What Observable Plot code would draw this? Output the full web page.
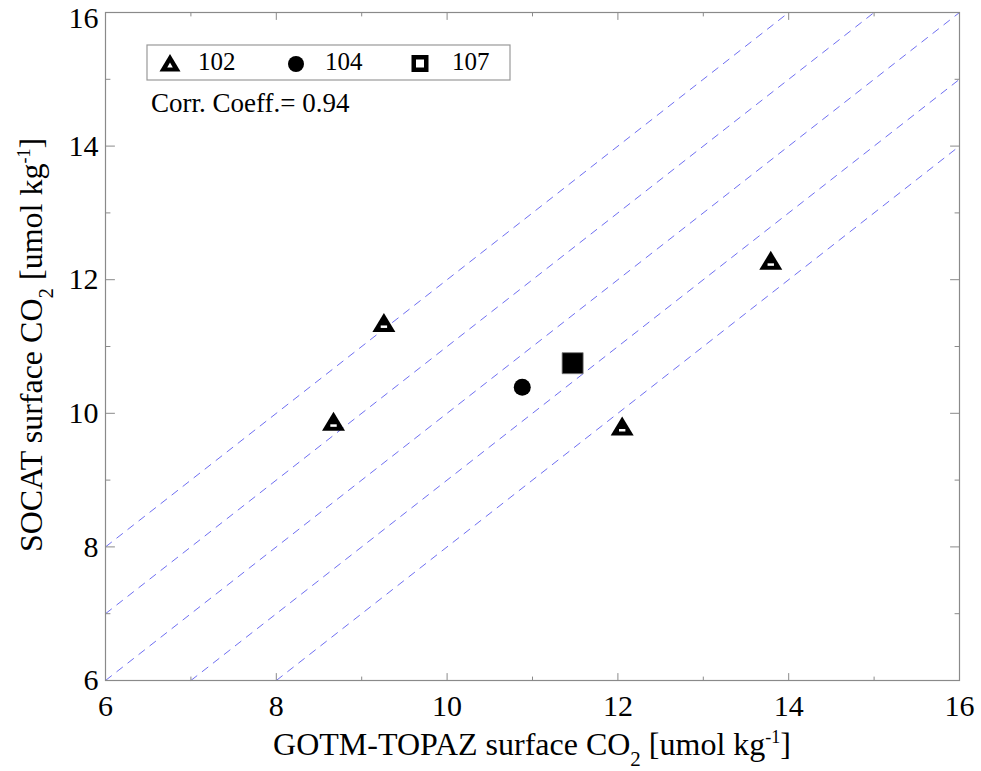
<!DOCTYPE html>
<html><head><meta charset="utf-8">
<script src="https://cdn.jsdelivr.net/npm/d3@7"></script>
<script src="https://cdn.jsdelivr.net/npm/@observablehq/plot@0.6"></script>
<style>body{margin:0;background:#fff;} #chart{width:981px;height:771px;}
svg text, svg tspan { font-family: "Liberation Serif", "Times New Roman", Tinos, "DejaVu Serif", serif !important; }
</style>
</head><body><div id="chart"></div>
<script>
// ---- data ----
const seriesNames = ["102", "104", "107"];
const x102 = [8.67, 9.26, 12.05, 13.79];
const y102 = [9.88, 11.36, 9.81, 12.29];
const x104 = [10.88];
const y104 = [10.39];
const x107 = [11.47];
const y107 = [10.75];
const majorTicks = [6, 8, 10, 12, 14, 16];
const minorTicks = [7, 9, 11, 13, 15];
const diagOffsets = [2, 1, 0, -1, -2];
const corrText = "Corr. Coeff.= 0.94";
const domainMin = 6, domainMax = 16;

// ---- tables ----
const pts102 = x102.map((x, i) => ({x, y: y102[i]}));
const pts104 = x104.map((x, i) => ({x, y: y104[i]}));
const pts107 = x107.map((x, i) => ({x, y: y107[i]}));
const diag = diagOffsets.map(k => {
  const xa = Math.max(domainMin, domainMin - k), xb = Math.min(domainMax, domainMax - k);
  return {x1: xa, y1: xa + k, x2: xb, y2: xb + k};
});

// ---- custom symbols ----
const rOf = size => Math.sqrt(size / Math.PI);
const triSym = {draw(ctx, size){ const r = rOf(size); ctx.moveTo(0, -0.95*r); ctx.lineTo(1.15*r, 0.95*r); ctx.lineTo(-1.15*r, 0.95*r); ctx.closePath(); }};
const slotSym = {draw(ctx, size){ const r = rOf(size); ctx.rect(-0.32*r, 0.3*r, 0.64*r, 0.25*r); }};
const sqSym = {draw(ctx, size){ const r = rOf(size); ctx.rect(-r, -r, 2*r, 2*r); }};
const tickShape = {draw(ctx, l){ ctx.moveTo(0, 0); ctx.lineTo(0, -l); }};

const frameColor = "#8a8a8a";
function ticks(values, side, len) {
  const opts = {length: len, anchor: "start", shape: tickShape, stroke: frameColor, strokeWidth: 1};
  if (side === "bottom") return Plot.vector(values, {...opts, x: d => d, frameAnchor: "bottom", rotate: 0});
  if (side === "top") return Plot.vector(values, {...opts, x: d => d, frameAnchor: "top", rotate: 180});
  if (side === "left") return Plot.vector(values, {...opts, y: d => d, frameAnchor: "left", rotate: 90});
  return Plot.vector(values, {...opts, y: d => d, frameAnchor: "right", rotate: -90});
}

const plot = Plot.plot({
  width: 981, height: 771,
  marginLeft: 105, marginRight: 22, marginTop: 12, marginBottom: 91,
  x: {domain: [domainMin, domainMax]},
  y: {domain: [domainMin, domainMax]},
  style: {background: "white", color: "black"},
  marks: [
    Plot.link(diag, {x1: "x1", y1: "y1", x2: "x2", y2: "y2", stroke: "#6f6ff2", strokeWidth: 1, strokeDasharray: "8,6"}),
    Plot.dot(pts102, {x: "x", y: "y", symbol: triSym, r: 10, fill: "black", stroke: "none"}),
    Plot.dot(pts102, {x: "x", y: "y", symbol: slotSym, r: 10, fill: "white", stroke: "none"}),
    Plot.dot(pts104, {x: "x", y: "y", r: 8.5, fill: "black", stroke: "none"}),
    Plot.dot(pts107, {x: "x", y: "y", symbol: sqSym, r: 10.5, fill: "black", stroke: "#777", strokeWidth: 0.8}),
    Plot.frame({stroke: frameColor, strokeWidth: 1.2}),
    ticks(majorTicks, "bottom", 7), ticks(minorTicks, "bottom", 3.5),
    ticks(majorTicks, "top", 7), ticks(minorTicks, "top", 3.5),
    ticks(majorTicks, "left", 9), ticks(minorTicks, "left", 4.5),
    ticks(majorTicks, "right", 9), ticks(minorTicks, "right", 4.5),
    Plot.axisX(majorTicks, {anchor: "bottom", tickSize: 0, tickPadding: 14, fontSize: 30, tickFormat: d => String(d), label: null}),
    Plot.axisY(majorTicks, {anchor: "left", tickSize: 0, tickPadding: 7, fontSize: 30, tickFormat: d => String(d), label: null})
  ]
});
document.getElementById("chart").appendChild(plot);

const svg = d3.select(plot);
svg.selectAll('g[aria-label="x-axis tick label"] text, g[aria-label="y-axis tick label"] text')
  .style("font-size", "30px").style("fill", "black");
// keep the top label fully inside the picture
const topLabel = String(majorTicks[majorTicks.length - 1]);
svg.selectAll('g[aria-label="y-axis tick label"] text')
  .filter(function(){ return this.textContent === topLabel; })
  .attr("dy", null).attr("y", 0).style("dominant-baseline", "auto").attr("transform", function(){ return (this.getAttribute("transform") || "") + " translate(0,15)"; });

// ---- axis titles and legend (decorations) ----
function addLabel(g, main) {
  const t = g.append("text").attr("text-anchor", "middle").style("font-size", "32px").attr("fill", "black");
  t.append("tspan").text(main + " surface CO");
  t.append("tspan").attr("dy", 11).style("font-size", "21px").text("2");
  t.append("tspan").attr("dy", -11).text(" [umol kg");
  t.append("tspan").attr("dy", -12).style("font-size", "18px").text("-1");
  t.append("tspan").attr("dy", 12).text("]");
}
addLabel(svg.append("g").attr("transform", "translate(532,755)"), "GOTM-TOPAZ");
addLabel(svg.append("g").attr("transform", "translate(42,345) rotate(-90)"), "SOCAT");

const lg = svg.append("g");
lg.append("rect").attr("x", 147).attr("y", 45).attr("width", 363).attr("height", 35).attr("fill", "white").attr("stroke", "#999").attr("stroke-width", 1.2);
// triangle (102)
lg.append("path").attr("d", "M170,54L180.5,71.5L159.5,71.5Z").attr("fill", "black");
lg.append("path").attr("d", "M170,62.5L172.8,67.5L167.2,67.5Z").attr("fill", "white");
// circle (104)
lg.append("circle").attr("cx", 296).attr("cy", 64).attr("r", 8).attr("fill", "black");
// square (107)
lg.append("rect").attr("x", 411.5).attr("y", 55).attr("width", 17).attr("height", 17).attr("fill", "black");
lg.append("rect").attr("x", 416).attr("y", 59.5).attr("width", 8).attr("height", 8).attr("fill", "white");
const legendTextX = [198, 325, 452];
seriesNames.forEach((s, i) => {
  lg.append("text").attr("x", legendTextX[i]).attr("y", 70).attr("text-anchor", "start")
    .style("font-size", "25px").attr("fill", "black").text(s);
});
svg.append("text").attr("x", 151).attr("y", 112).attr("text-anchor", "start")
  .style("font-size", "27px").attr("fill", "black").text(corrText);
</script>
</body></html>
